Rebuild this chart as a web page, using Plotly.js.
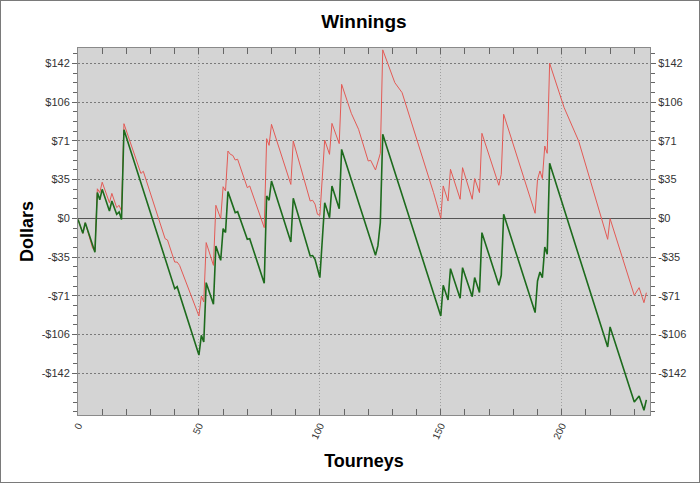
<!DOCTYPE html>
<html>
<head>
<meta charset="utf-8">
<script src="https://cdn.plot.ly/plotly-3.0.1.min.js"></script>
<style>
html,body{margin:0;padding:0;background:#fff;}
#wrap{position:relative;width:700px;height:483px;}
#chart{width:700px;height:483px;}
#frame{position:absolute;left:0;top:0;width:698px;height:481px;border:1px solid #7a7a7a;pointer-events:none;}
</style>
</head>
<body>
<div id="wrap"><div id="chart"></div><div id="frame"></div></div>
<script>
// Tourney index and cumulative winnings (green series)
const greenX = [0,2,3,7,8,9,10,13,14,16,17,18,19,40,41,50,51,52,53,56,57,59,60,61,62,65,66,70,71,77,78,79,80,88,89,96,97,98,100,102,104,105,108,109,123,124,125,126,150,151,153,154,158,159,163,164,166,167,174,175,176,189,190,191,192,193,194,195,219,220,230,232,234,235];
const greenY = [-1,-13.7,-4,-31,23.5,17,26.5,6.7,15.8,3.7,5.8,-1,81,-64.3,-62.5,-125,-107,-113,-58.8,-78.6,-25.3,-38.4,-9.4,-13,24.4,5.2,6.1,-19.2,-18.6,-59.4,20.4,16.5,34.1,-21.6,18.3,-34.4,-34,-37.5,-54.2,14.3,0.6,29.6,8.8,63,-33.8,-25,-4,76.8,-89.3,-61.2,-74.6,-46,-73.1,-45.1,-71.6,-54.2,-67.9,-13.1,-61.2,-52.1,3.7,-86.2,-57.3,-49.1,-54.2,-26.2,-32.9,50.3,-117.6,-99.3,-167.9,-162.4,-175.5,-166];

// Red series
const redX = [0,2,3,6,7,8,9,10,13,14,16,17,18,19,26,27,36,37,40,41,42,50,51,52,53,56,57,59,60,61,62,63,64,65,66,70,71,77,78,79,80,88,89,96,97,98,99,100,102,104,105,108,109,113,116,120,121,123,125,126,131,134,147,150,151,153,154,158,159,163,164,166,167,174,175,176,189,190,191,192,193,194,195,198,201,207,219,220,230,232,234,235];
const redY = [-1,-13.7,-4,-27,-30,27,23.5,33,14.3,22.8,9.8,11.9,6.7,86.5,41,43,-18.6,-19.8,-40,-40,-43,-89.3,-71,-76.5,-22.2,-43,11.9,-0.3,28.9,25,61.5,58.5,57.5,53.3,54,28,29.6,-8.5,72.8,66.7,85.9,31,70.7,15.8,16.5,13,3.7,2.7,71.6,58.5,86.8,68.3,122.5,96,81.4,52.4,53,44.2,59.4,154,124,114.9,23.5,0,29.6,15.8,44.8,17.4,46.3,17.4,36.3,23.5,77.7,30.2,40.2,95.1,4.6,35.6,43.3,36.3,66.1,59.4,141.7,121,101.2,70.7,-19.2,-0.3,-70.4,-63.4,-77.1,-68];

// Axis ticks
const yTickVals = [-141.6,-106.2,-70.8,-35.4,0,35.4,70.8,106.2,141.6];
const yTickText = ['-$142','-$106','-$71','-$35','$0','$35','$71','$106','$142'];
const xTickVals = [0,50,100,150,200];
const xTickText = ['0','50','100','150','200'];

const FONT = 'Liberation Sans, Arial, sans-serif';
const yRange = [-179.8, 155.7];

const traces = [
  {x: redX, y: redY, type: 'scatter', mode: 'lines', line: {color: '#e35a55', width: 1}, hoverinfo: 'skip'},
  {x: greenX, y: greenY, type: 'scatter', mode: 'lines', line: {color: '#1d6b1d', width: 1.6}, hoverinfo: 'skip'},
  {x: [], y: [], yaxis: 'y2', type: 'scatter', mode: 'lines', showlegend: false}
];

const yCommon = {
  range: yRange, autorange: false, tickmode: 'array', tickvals: yTickVals, ticktext: yTickText,
  tickfont: {family: FONT, size: 11, color: '#333'}, ticks: 'outside', ticklen: 5, tickcolor: '#666',
  minor: {dtick: 8.85, tick0: 0, ticks: 'outside', ticklen: 4, tickcolor: '#666', showgrid: false},
  showline: true, linecolor: '#8a8a8a', linewidth: 1
};

const layout = {
  width: 700, height: 483,
  margin: {l: 78, r: 50, t: 48, b: 68, pad: 0},
  paper_bgcolor: '#ffffff', plot_bgcolor: '#d4d4d4',
  showlegend: false,
  title: {text: '<b>Winnings</b>', x: 0.52, xanchor: 'center', y: 0.955, yanchor: 'middle', yref: 'container',
          font: {family: FONT, size: 19, color: '#000'}},
  xaxis: {
    range: [0, 236.5], autorange: false, tickmode: 'array', tickvals: xTickVals, ticktext: xTickText,
    tickangle: -65, tickfont: {family: FONT, size: 10, color: '#333'},
    ticks: 'inside', ticklen: 6, tickcolor: '#666',
    minor: {dtick: 10, tick0: 0, ticks: 'inside', ticklen: 4, tickcolor: '#666', showgrid: false},
    showgrid: true, gridcolor: '#a0a0a0', griddash: '1px,2px', gridwidth: 1,
    showline: true, linecolor: '#8a8a8a', linewidth: 1, mirror: 'allticks', zeroline: false,
    title: {text: '<b>Tourneys</b>', font: {family: FONT, size: 18, color: '#000'}, standoff: 14}
  },
  yaxis: Object.assign({}, yCommon, {
    showgrid: true, gridcolor: '#7a7a7a', griddash: '2px,2px', gridwidth: 1,
    zeroline: true, zerolinecolor: '#555', zerolinewidth: 1, mirror: true,
    title: {text: '<b>Dollars</b>', font: {family: FONT, size: 18, color: '#000'}, standoff: 3}
  }),
  yaxis2: Object.assign({}, yCommon, {
    overlaying: 'y', side: 'right', showgrid: false, zeroline: false
  })
};

Plotly.newPlot('chart', traces, layout, {staticPlot: true, displayModeBar: false});
</script>
</body>
</html>
